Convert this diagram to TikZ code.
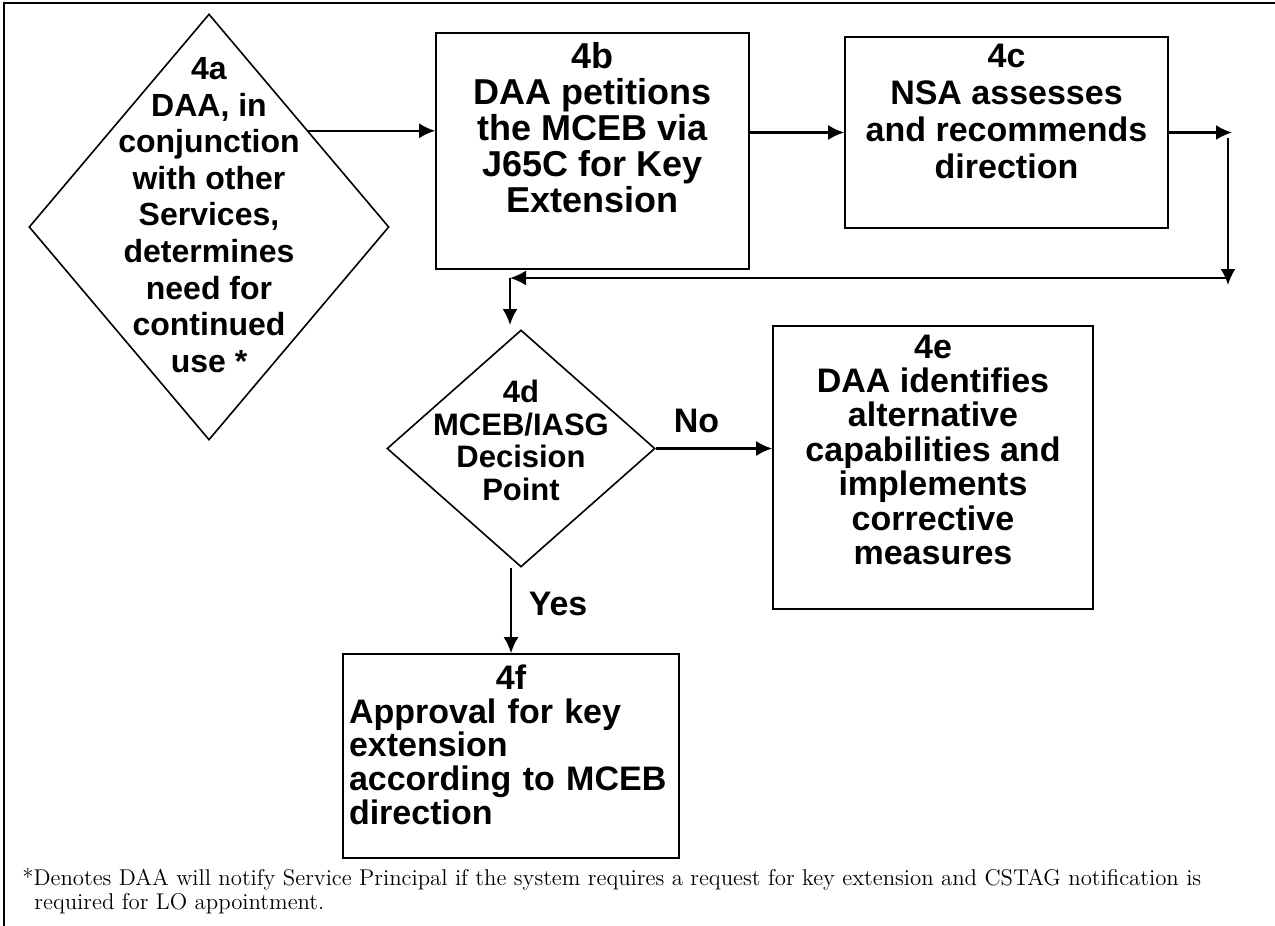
\documentclass[tikz,border=0pt]{standalone}
\usepackage{fontspec}
\newfontfamily\arialfont{Liberation Sans}
\usetikzlibrary{positioning,shapes.geometric,arrows.meta,calc}
\tikzset{>={Latex[length=8pt,width=7.5pt]}}
\tikzset{
  stepbox/.style={draw, rectangle, line width=0.8pt, align=center, inner sep=2pt,
    font=\arialfont\bfseries\fontsize{17}{18}\selectfont},
  decision/.style={draw, diamond, line width=0.8pt, inner sep=0pt},
  flowtext/.style={align=center, font=\arialfont\bfseries\fontsize{17}{18.3}\selectfont},
  flow/.style={->, line width=1.1pt},
}

\begin{document}
\begin{tikzpicture}[x=0.5pt, y=-0.5pt]
      \useasboundingbox (0,0) rectangle (1275,926);
      \draw[line width=0.8pt] (1275,3) -- (4,3) -- (4,926);
      \node[decision, minimum width=180pt, minimum height=213pt,
        label={[flowtext, yshift=6pt, font=\arialfont\bfseries\fontsize{16}{18.3}\selectfont]center:4a\\DAA, in\\conjunction\\with other\\Services,\\determines\\need for\\continued\\use *}] (n4a) at (209,227) {};
      \node[stepbox, minimum width=156.5pt, minimum height=118pt, text depth=24pt,
        font=\arialfont\bfseries\fontsize{18}{18}\selectfont] (n4b) at (592.5,151) {4b\\DAA petitions\\the MCEB via\\J65C for Key\\Extension};
      \node[stepbox, minimum width=161.5pt, minimum height=95.5pt, text depth=21pt,
        font=\arialfont\bfseries\fontsize{17}{18.5}\selectfont] (n4c) at (1006.5,132.5) {4c\\NSA assesses\\and recommends\\direction};
      \node[decision, minimum width=134pt, minimum height=118.5pt,
        label={[flowtext, yshift=4pt, font=\arialfont\bfseries\fontsize{15.5}{16.3}\selectfont]center:4d\\MCEB/IASG\\Decision\\Point}] (n4d) at (521,448.5) {};
      \node[stepbox, minimum width=160pt, minimum height=141.5pt, text depth=18pt,
        font=\arialfont\bfseries\fontsize{17}{17.2}\selectfont] (n4e) at (933,467.5) {4e\\DAA identifies\\alternative\\capabilities and\\implements\\corrective\\measures};
      \node[stepbox, align=left, minimum width=168pt, minimum height=102pt, text width=162pt, text depth=79pt,
        font=\arialfont\bfseries\fontsize{17}{16.9}\selectfont] (n4f) at (511,756) {\makebox[162pt]{4f}\\Approval for key\\extension\\according to MCEB\\direction};
      \coordinate (aux1) at (1232,132.5);
      \coordinate (aux2) at (1228,138);
      \coordinate (aux3) at (1228,285);
      \coordinate (aux4) at (1228,278);
      \coordinate (aux5) at (510,278);
      \coordinate (aux6) at (510,325);
      \draw[flow] ($(n4a.north)!0.55!(n4a.east)$) coordinate (aux0) -- (aux0 -| n4b.west);
      \draw[flow] (n4b.east |- n4c.west) -- (n4c.west);
      \draw[flow] (n4c.east) -- (aux1);
      \draw[flow] (aux2) -- (aux3);
      \draw[flow] (aux4) -- (aux5);
      \draw[flow] (aux5) -- (aux6);
      \draw[flow] (n4d.east) -- node[flowtext, pos=0.35, above=4pt]{No} (n4d.east -| n4e.west);
      \draw[flow] (n4f.north |- n4d.south) -- node[flowtext, pos=0.42, right=5pt]{Yes} (n4f.north);
      \node[anchor=north west, align=left, inner sep=0pt, font=\fontsize{11.4}{12}\selectfont] (note) at (22,868) {*Denotes DAA will notify Service Principal if the system requires a request for key extension and CSTAG notification is\\\hspace*{6pt}required for LO appointment.};
    \end{tikzpicture}
\end{document}
